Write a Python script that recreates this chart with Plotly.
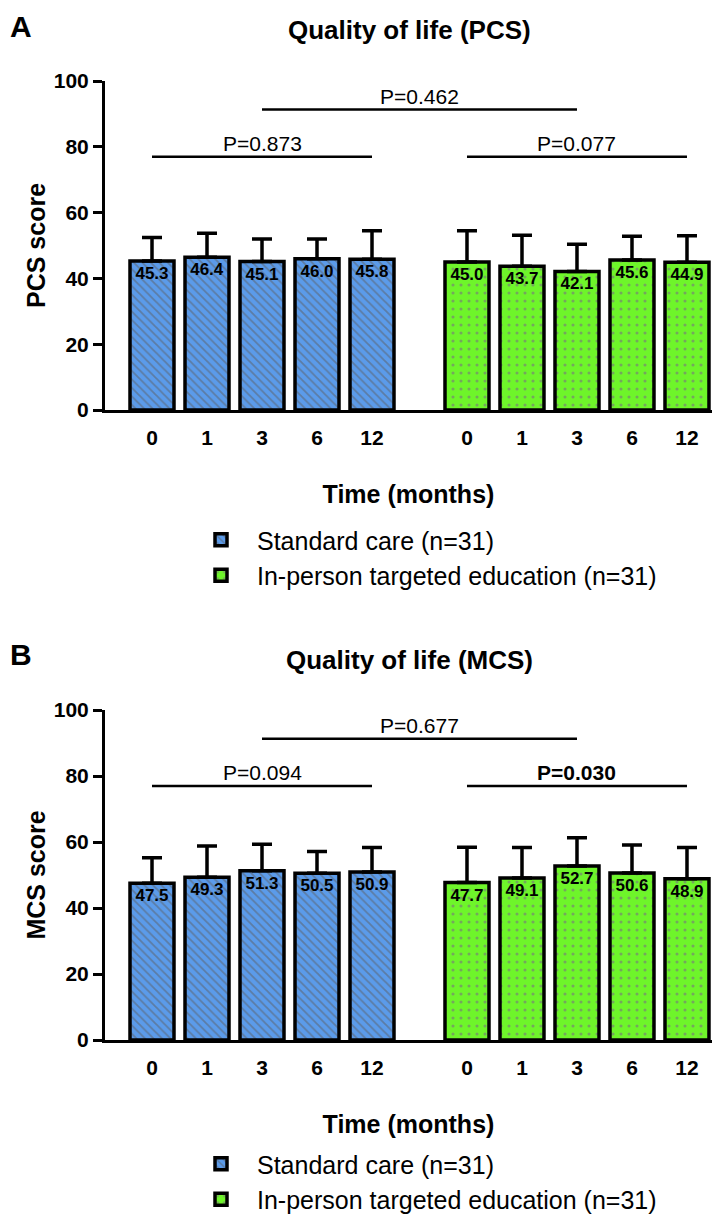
import plotly.graph_objects as go

# ---------------- data ----------------
months = ["0", "1", "3", "6", "12"]
groups = ["Standard care (n=31)", "In-person targeted education (n=31)"]

pcs_standard_mean = [45.3, 46.4, 45.1, 46.0, 45.8]
pcs_standard_sd = [7.1, 7.3, 6.9, 6.0, 8.7]
pcs_education_mean = [45.0, 43.7, 42.1, 45.6, 44.9]
pcs_education_sd = [9.5, 9.4, 8.3, 7.2, 8.1]

mcs_standard_mean = [47.5, 49.3, 51.3, 50.5, 50.9]
mcs_standard_sd = [7.7, 9.5, 8.0, 6.6, 7.4]
mcs_education_mean = [47.7, 49.1, 52.7, 50.6, 48.9]
mcs_education_sd = [10.7, 9.2, 8.6, 8.5, 9.4]

pcs_p_within = [0.873, 0.077]   # standard care, education (0 vs 12 months)
pcs_p_between = 0.462
mcs_p_within = [0.094, 0.030]
mcs_p_between = 0.677

# ---------------- layout helpers ----------------
W, H = 727, 1218
OFFSET = 8  # page body margin of the browser
FONT = "Liberation Sans, Arial, Helvetica, sans-serif"
GROUP_STEP = len(months) + 0.727
X_LEFT, X_RIGHT = 105, 712
PX_PER_UNIT = 55.0
X_RANGE = [-(152 - X_LEFT) / PX_PER_UNIT, (X_RIGHT - 152) / PX_PER_UNIT]

COLORS = ["#5b9bea", "#6ef52a"]
PATTERNS = [
    dict(shape="\\", fgcolor="#5e5e5e", bgcolor="#5b9bea", size=6, solidity=0.3),
    dict(shape=".", fgcolor="#7a5a90", bgcolor="#6ef52a", size=8, solidity=0.12),
]


def px(x):
    return (x - OFFSET) / W


def py(y):
    return 1 - (y - OFFSET) / H


panels = [
    dict(key="", means=[pcs_standard_mean, pcs_education_mean], sds=[pcs_standard_sd, pcs_education_sd],
         pw=pcs_p_within, pb=pcs_p_between, top=81, bot=410, label="A", label_top=9,
         title="Quality of life (PCS)", title_y=30, ytitle="PCS score", legend="legend", legend_y=517),
    dict(key="2", means=[mcs_standard_mean, mcs_education_mean], sds=[mcs_standard_sd, mcs_education_sd],
         pw=mcs_p_within, pb=mcs_p_between, top=710, bot=1040, label="B", label_top=637,
         title="Quality of life (MCS)", title_y=660, ytitle="MCS score", legend="legend2", legend_y=1141),
]

fig = go.Figure()
annotations = []
shapes = []


def ptext(p):
    t = f"P={p:.3f}"
    return f"<b>{t}</b>" if p < 0.05 else t


for pan in panels:
    xa = "x" + pan["key"]
    ya = "y" + pan["key"]
    for g in range(2):
        xs = [i + g * GROUP_STEP for i in range(len(months))]
        fig.add_trace(go.Bar(
            x=xs, y=pan["means"][g], width=0.8,
            name=groups[g], xaxis=xa, yaxis=ya, legend=pan["legend"],
            text=[f"{v:.1f}" for v in pan["means"][g]],
            textposition="inside", insidetextanchor="end", constraintext="none", textangle=0,
            textfont=dict(family=FONT, size=17, color="black", weight="bold"),
            marker=dict(color=COLORS[g], line=dict(color="black", width=3.5), pattern=PATTERNS[g]),
            error_y=dict(type="data", array=pan["sds"][g], arrayminus=[0] * len(months),
                         symmetric=False, color="black", thickness=3.5, width=10),
            cliponaxis=False,
        ))

    tickvals = [i + g * GROUP_STEP for g in range(2) for i in range(len(months))]
    fig.layout["xaxis" + pan["key"]] = dict(
        domain=[px(X_LEFT), px(X_RIGHT)], range=X_RANGE, anchor=ya, automargin=False,
        tickvals=tickvals, ticktext=months * 2, ticks="", ticklabelstandoff=7,
        tickfont=dict(family=FONT, size=21, color="black", weight="bold"),
        showline=True, linecolor="black", linewidth=2.5, showgrid=False, zeroline=False,
        title=dict(text="Time (months)", standoff=38, font=dict(family=FONT, size=25, color="black", weight="bold")),
    )
    fig.layout["yaxis" + pan["key"]] = dict(
        domain=[py(pan["bot"]), py(pan["top"])], range=[0, 100], dtick=20, anchor=xa, automargin=False,
        ticks="outside", ticklen=9, tickwidth=2.5, tickcolor="black",
        tickfont=dict(family=FONT, size=21, color="black", weight="bold"),
        showline=True, linecolor="black", linewidth=3, showgrid=False, zeroline=False,
        title=dict(text=pan["ytitle"], standoff=2, font=dict(family=FONT, size=25, color="black", weight="bold")),
    )

    # significance bars
    lines = [
        (0, len(months) - 1, 77, pan["pw"][0]),
        (GROUP_STEP, GROUP_STEP + len(months) - 1, 77, pan["pw"][1]),
        (2, 2 + GROUP_STEP, 91.3, pan["pb"]),
    ]
    for x0, x1, yv, p in lines:
        shapes.append(dict(type="line", xref=xa, yref=ya, x0=x0, x1=x1, y0=yv, y1=yv,
                           line=dict(color="black", width=2.5)))
        annotations.append(dict(xref=xa, yref=ya, x=(x0 + x1) / 2, y=yv, yanchor="bottom", yshift=0,
                                text=ptext(p), showarrow=False,
                                font=dict(family=FONT, size=21, color="black")))

    annotations.append(dict(xref="paper", yref="paper", x=px(21), y=py(pan["label_top"]), xanchor="center",
                            yanchor="top", text="<b>" + pan["label"] + "</b>", showarrow=False, borderpad=0,
                            font=dict(family=FONT, size=30, color="black")))
    annotations.append(dict(xref="paper", yref="paper", x=px(409), y=py(pan["title_y"]), xanchor="center",
                            yanchor="middle", text="<b>" + pan["title"] + "</b>", showarrow=False,
                            font=dict(family=FONT, size=26, color="black")))

    fig.layout[pan["legend"]] = dict(
        x=px(185), y=py(pan["legend_y"]), xanchor="left", yanchor="top",
        font=dict(family=FONT, size=25, color="black"), bgcolor="rgba(0,0,0,0)",
        traceorder="normal", itemwidth=62, tracegroupgap=0,
    )

fig.update_layout(
    width=W, height=H, margin=dict(l=0, r=0, t=0, b=0, autoexpand=False),
    paper_bgcolor="white", plot_bgcolor="white",
    barmode="overlay", showlegend=True,
    annotations=annotations, shapes=shapes,
    font=dict(family=FONT, color="black"),
)

fig.write_html("out.html")
